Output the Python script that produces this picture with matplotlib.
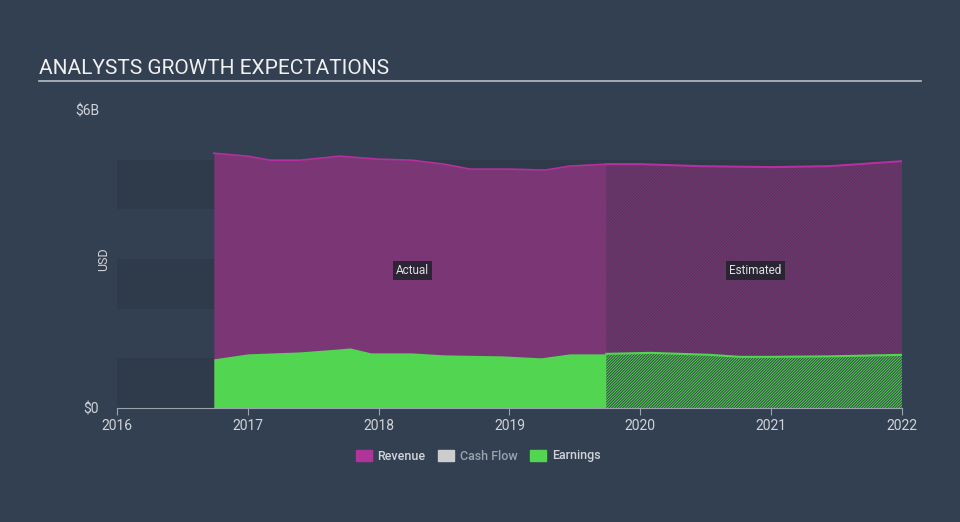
import matplotlib.pyplot as plt
import matplotlib as mpl

# values (years as decimals, USD in billions)
rev_years = [2016.74, 2017.0, 2017.17, 2017.4, 2017.7, 2018.0, 2018.25, 2018.5,
             2018.7, 2019.0, 2019.27, 2019.46, 2019.74]
rev_vals = [5.13, 5.07, 4.99, 4.99, 5.07, 5.01, 4.99, 4.91, 4.81, 4.81, 4.79, 4.87, 4.91]
rev_est_years = [2019.74, 2020.0, 2020.45, 2021.0, 2021.45, 2022.0]
rev_est_vals = [4.91, 4.91, 4.87, 4.85, 4.87, 4.97]

earn_years = [2016.74, 2017.0, 2017.4, 2017.7, 2017.78, 2017.94, 2018.25, 2018.5,
              2018.94, 2019.24, 2019.46, 2019.74]
earn_vals = [0.99, 1.09, 1.13, 1.19, 1.21, 1.11, 1.11, 1.07, 1.05, 1.01, 1.09, 1.09]
earn_est_years = [2019.74, 2020.08, 2020.53, 2020.76, 2021.0, 2021.45, 2022.0]
earn_est_vals = [1.09, 1.11, 1.07, 1.03, 1.03, 1.04, 1.07]

x_ticks = [2016, 2017, 2018, 2019, 2020, 2021, 2022]
y_ticks = [0, 6]
y_tick_labels = ["$0", "$6B"]

BG = "#334052"
REV = "#7B3775"
REV_LINE = "#B5309E"
EARN = "#52D652"
TXT = "#D0D4D9"

plt.rcParams["font.family"] = ["Roboto", "DejaVu Sans"]
plt.rcParams["hatch.linewidth"] = 0.8

fig = plt.figure(figsize=(9.6, 5.22), dpi=100, facecolor=BG)
ax = fig.add_axes([117 / 960, 1 - 408 / 522, 785 / 960, 298 / 522])
ax.set_facecolor(BG)

# alternating background bands
for lo in [0, 2, 4]:
    ax.axhspan(lo, lo + 1, color="#2F3B4B", zorder=0, lw=0)

# revenue
ax.fill_between(rev_years, 0, rev_vals, color=REV, lw=0, zorder=1)
ax.plot(rev_years, rev_vals, color=REV_LINE, lw=1.2, zorder=3)
ax.fill_between(rev_est_years, 0, rev_est_vals, facecolor=REV, edgecolor="#55345C",
                hatch="/" * 12, lw=0, zorder=1)
ax.plot(rev_est_years, rev_est_vals, color=REV_LINE, lw=1.5, zorder=3)

# earnings
ax.fill_between(earn_years, 0, earn_vals, color=EARN, lw=0, zorder=2)
ax.fill_between(earn_est_years, 0, earn_est_vals, facecolor=EARN, edgecolor="#385248",
                hatch="/" * 12, lw=0, zorder=2)
ax.plot(earn_est_years, earn_est_vals, color=EARN, lw=1.5, zorder=3)

ax.set_xlim(2016, 2022)
ax.set_ylim(0, 6)
ax.set_xticks(x_ticks)
ax.set_xticklabels([str(t) for t in x_ticks], color=TXT, fontsize=10)
ax.set_yticks(y_ticks)
ax.set_yticklabels(y_tick_labels, color=TXT, fontsize=10)
ax.tick_params(axis="x", colors="#9AA3AE", length=5, labelcolor=TXT, pad=3)
ax.tick_params(axis="y", length=0, pad=13, labelcolor=TXT)
for s in ["top", "right", "left"]:
    ax.spines[s].set_visible(False)
ax.spines["bottom"].set_color("#9AA3AE")
ax.set_ylabel("USD", color=TXT, fontsize=9, labelpad=2)
ax.yaxis.set_label_coords(-0.009, 0.5)

box = dict(boxstyle="square,pad=0.25", fc="#23232E", ec="none", alpha=0.9)
ax.text(2018.26, 2.77, "Actual", color="#E0E0E0", fontsize=8.5, ha="center", va="center",
        bbox=box, zorder=5)
ax.text(2020.88, 2.77, "Estimated", color="#E0E0E0", fontsize=8.5, ha="center", va="center",
        bbox=box, zorder=5)

# title and rule
fig.text(39 / 960, 1 - 68 / 522, "ANALYSTS GROWTH EXPECTATIONS", color="#F0F0F0",
         fontsize=15, ha="left", va="center")
fig.add_artist(plt.Line2D([39 / 960, 921 / 960], [1 - 81 / 522, 1 - 81 / 522],
                          color="#B8BEC5", lw=1.2))

# legend
handles = [mpl.patches.Patch(color="#B0359A"), mpl.patches.Patch(color="#CCCCCC"),
           mpl.patches.Patch(color=EARN)]
leg = fig.legend(handles, ["Revenue", "Cash Flow", "Earnings"], loc="center",
                 bbox_to_anchor=(478 / 960, 1 - 456 / 522), ncol=3, frameon=False,
                 prop={"size": 9, "weight": "medium"}, handlelength=1.3, handleheight=1.0,
                 columnspacing=1.0, handletextpad=0.45)
for t, c in zip(leg.get_texts(), [TXT, "#9AA3AE", TXT]):
    t.set_color(c)

fig.savefig("out.png", dpi=100, facecolor=BG)
